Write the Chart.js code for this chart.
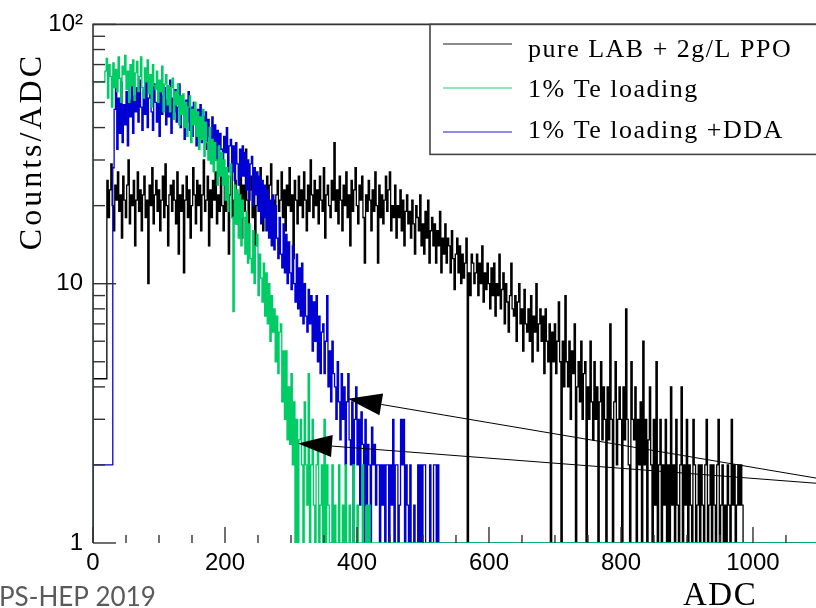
<!DOCTYPE html>
<html><head><meta charset="utf-8">
<script src="https://cdn.jsdelivr.net/npm/chart.js@4.4.1/dist/chart.umd.min.js"></script>
<style>html,body{margin:0;padding:0;background:#fff;overflow:hidden}#c{display:block}</style>
</head><body>
<div style="width:816px;height:608px;position:relative"><canvas id="c" width="816" height="608"></canvas></div>
<script>
// ---- data (counts per ADC, bins of 2 ADC) ----
const binWidth = 2;
const blackStart = 21;
const blackCounts = [
 4.3,25,18,23,29,20,16,24,21,27,
 19,22,15,26,21,18,24,30,17,22,
 20,25,14,21,27,19,23,16,22,26,
 18,21,10,24,20,28,17,22,25,19,
 23,16,21,26,18,29,20,14,22,24,
 19,25,21,17,27,13,22,19,24,11,
 21,26,18,23,15,20,28,22,17,25,
 20,24,16,22,30,19,21,26,14,23,
 18,25,21,27,17,22,19,31,20,16,
 24,19,26,13,22,28,18,21,25,17,
 22,20,27,15,24,19,33,21,17,23,
 26,18,22,14,20,25,19,28,21,16,
 23,20,26,18,24,29,17,21,15,22,
 25,19,21,27,18,23,16,24,20,28,
 19,22,12.5,25,21,17,26,20,23,18,
 27,21,16,24,19,30,22,18,25,20,
 23,17,26,21,19,28,15,22,24,20,
 18,25,21,35,19,23,17,26,21,16,
 24,20,27,18,22,14,25,19,23,28,
 20,17,24,21,26,18,12,22,19,25,
 21,16,23,19,27,20,12,24,18,22,
 17,21,26,19,23,27,16,20,18,24,
 15,20,18,23,16,21,14,19,22,17,
 19,15,21,17,13,20,18,16,22,14,
 17,13,19,15,21,12,16,18,14,17,
 12,16,14,19,11,15,13,17,12,15,
 14,11,16,12.5,9.5,13,15,11,14,10,
 13,10.5,12,15,0,11,9,13,12,10,
 11,13,9,12,10,14,8.5,11,9.5,12,
 10,8,11.5,9,12,7.5,10,9,13,8,
 9.5,11,7,10,8.5,6.5,9,12,8,7.5,
 9,6,8.5,10,7,8,5.5,9.5,7,6.5,
 8,6,9,5,7.5,6.5,10,5.5,7,8,
 6,7.5,4.5,8,6,5,7,0,6.5,5,
 7,4.5,6,8.5,5,0,6,4,9,5,
 4,6,3,5.5,4.5,7,0,4,5,3.5,
 6,3,4.5,5,0,4,3,6,3.5,2.5,
 5,3,4,0,3.5,5,2.5,4,3,0,
 4,2.5,7,3,0,3.5,5,2,3,4,
 3,0,4,2.5,8,3,2,0,5,3,
 2.5,4,0,3,2,3.5,0,6,2,3,
 0,2.5,4,2,0,3,1.4,5,0,2,
 3,0,2,1.4,3,0,2,0,4,1.4,
 2,0,3,1.4,0,2,4,0,2,1.4,
 3,0,2,1.4,0,3,2,0,1.4,2,
 0,2,1.4,0,2,3,0,1.4,2,0,
 2,1.4,0,2,3,0,1.4,2,0,1.4,
 0,2,1.4,0,3,1.4,2,0,1.4,2,
 1.4,2,1.4
];
const greenStart = 18;
const greenCounts = [
 60,66,74,52,70,63,48,71,57,67,
 55,75,62,50,69,64,76,56,66,50,
 70,58,73,51,65,72,55,63,75,57,
 52,68,60,73,54,64,48,70,58,56,
 66,50,61,55,69,46,59,64,49,58,
 46,57,62,43,55,49,59,41,53,45,
 54,40,50,37,48,53,35,47,41,50,
 37,46,33,44,36,47,31,42,35,30,
 40,29,36,27,35,30,24,34,26,32,
 24,30,21,28,19,26,29,18,7.8,24,
 17,23,15,22,14,21,18,13,19,12,
 17,12.5,11,16,10,14,15.5,9,13,10.5,
 8.5,12,7.5,11,7,10,6,9,6.5,8,
 5,7.5,4.5,6.5,7,3.5,5.5,3,5.5,2.5,
 4,2.4,4.5,2,3.5,0,3,0,2.5,3,
 2,0,3.5,2,1.4,4.5,0,2,3,1.4,
 0,2,2.5,0,1.4,2,0,3,0,2,
 1.4,0,0,2,0,1.4,0,0,2,0,
 0,1.4,0,2,0,0,1.4,0,0,2,
 0,0,1.4,0,0,0,2,0,0,1.4,
 0,1.4
];
const blueStart = 30;
const blueCounts = [
 2,28,47,58,33,52,38,60,35,49,
 41,55,34,51,44,59,38,53,46,57,
 42,61,48,39,56,45,62,40,52,58,
 46,39,59,50,42,55,37,60,45,53,
 57,41,51,44,61,38,52,46,56,42,
 48,59,40,53,45,36,51,42,55,39,
 48,37,50,42,34,47,39,49,35,44,
 38,46,33,43,37,31,44,35,41,30,
 39,30,38,33,28,37,32,40,27,34,
 36,27,34,25,35,29,24,33,26,34,
 26,32,23,30,21,29,31,20,28,22,
 27,19,26,17,25,18,24,16,23,15,
 21,14,22,13.5,20,15,12.5,18,13,11.5,
 17,11,15.5,10,14.5,11,9.5,14,10,8.5,
 13,8,11.5,7.5,12,7,10,7.5,6.5,9.5,
 7,9,5.5,8.5,6,9,5,7.5,4.5,6.5,
 7,4.5,6,9,4,5.5,3.5,6,4.5,4,
 3,5,3.5,2.5,4.5,3,4,2,3.5,4.5,
 2.5,2,3.5,0,3,4,2,3,1.4,3.2,
 2.4,0,3,1.4,2.4,2,0,2.8,2,2.4,
 1.4,2,2,0,2,1.4,2,0,2,2,
 0,2,1.4,3,0,2,2,0,1.4,3,
 2,3,0,2,1.4,0,2,0,0,1.4,
 0,0,2,0,2,0,2,2,0,0,
 0,2,0,0,2,2,0,2,0,0
];
const seriesLabels = ['pure LAB + 2g/L PPO', '1% Te loading', '1% Te loading +DDA'];
const seriesColors = ['#000000', '#00cc66', '#0000d2'];
const xTickValues = [0, 200, 400, 600, 800, 1000];
const yTickValues = [1, 10, 100];
const yTickLabels = ['1', '10', '10\u00B2'];
const xMin = 0, xMax = 1095.5, yMin = 1, yMax = 100;
// annotation arrows: from (ADC, counts) -> to (ADC, counts)
const arrowFrom = [[1095.5, 1.78], [1095.5, 1.70]];
const arrowTo = [[386, 3.6], [310.6, 2.42]];

// ---- build step histograms (empty bins drawn on the axis floor) ----
function histPoints(start, counts) {
  const floor = v => (v > yMin ? v : yMin);
  const pts = [{x: xMin, y: yMin}];
  counts.forEach((c, i) => pts.push({x: start + i * binWidth, y: floor(c)}));
  pts.push({x: start + counts.length * binWidth, y: yMin});
  pts.push({x: xMax, y: yMin});
  return pts;
}

const frameColor = '#333';
const decor = {
  id: 'decor',
  afterDraw(chart) {
    const ctx = chart.ctx, a = chart.chartArea;
    const xs = chart.scales.x, ys = chart.scales.y;
    ctx.save();
    ctx.strokeStyle = frameColor; ctx.lineWidth = 1.6;
    ctx.beginPath();
    ctx.moveTo(a.right + 5, a.top); ctx.lineTo(a.left, a.top); ctx.lineTo(a.left, a.bottom);
    ctx.stroke();
    ctx.lineWidth = 1.4;
    for (let d = 1; d <= 100; d *= 10) {
      for (let m = 1; m <= 9; m++) {
        const v = d * m; if (v > yMax) break;
        const y = ys.getPixelForValue(v);
        const len = (m === 1) ? 23 : 12;
        ctx.beginPath(); ctx.moveTo(a.left, y); ctx.lineTo(a.left + len, y); ctx.stroke();
      }
    }
    for (let v = 0; v <= xMax; v += 50) {
      const x = xs.getPixelForValue(v);
      const len = (v % 200 === 0) ? 16 : 8;
      ctx.beginPath(); ctx.moveTo(x, a.bottom); ctx.lineTo(x, a.bottom - len); ctx.stroke();
    }
    // legend
    ctx.fillStyle = '#fff';
    ctx.fillRect(430, a.top, 400, 130);
    ctx.strokeStyle = '#444'; ctx.lineWidth = 1.6;
    ctx.strokeRect(430, a.top, 400, 130);
    const rowLine = [44, 88, 132], rowBase = [57, 97, 138];
    ctx.font = '26px "Liberation Serif"';
    try { ctx.letterSpacing = '1.5px'; } catch (e) {}
    ctx.textAlign = 'left'; ctx.textBaseline = 'alphabetic';
    seriesLabels.forEach((lab, i) => {
      ctx.strokeStyle = seriesColors[i]; ctx.globalAlpha = 0.6; ctx.lineWidth = 1.6;
      ctx.beginPath(); ctx.moveTo(443, rowLine[i]); ctx.lineTo(512, rowLine[i]); ctx.stroke();
      ctx.globalAlpha = 1;
      ctx.fillStyle = '#000';
      ctx.fillText(lab, 528, rowBase[i]);
    });
    // arrows
    ctx.strokeStyle = '#000'; ctx.fillStyle = '#000'; ctx.lineWidth = 1;
    arrowFrom.forEach((f, i) => {
      const x1 = xs.getPixelForValue(f[0]), y1 = ys.getPixelForValue(f[1]);
      const x2 = xs.getPixelForValue(arrowTo[i][0]), y2 = ys.getPixelForValue(arrowTo[i][1]);
      const ang = Math.atan2(y2 - y1, x2 - x1);
      const L = 34, W = 11;
      const bx = x2 - L * Math.cos(ang), by = y2 - L * Math.sin(ang);
      ctx.beginPath(); ctx.moveTo(x1 + 40, y1 + 40 * Math.tan(ang)); ctx.lineTo(bx, by); ctx.stroke();
      ctx.beginPath();
      ctx.moveTo(x2, y2);
      ctx.lineTo(bx - W * Math.sin(ang), by + W * Math.cos(ang));
      ctx.lineTo(bx + W * Math.sin(ang), by - W * Math.cos(ang));
      ctx.closePath(); ctx.fill();
    });
    // axis titles
    ctx.fillStyle = '#000';
    ctx.font = '32px "Liberation Serif"';
    try { ctx.letterSpacing = '3px'; } catch (e) {}
    ctx.save();
    ctx.translate(41, 53); ctx.rotate(-Math.PI / 2);
    ctx.textAlign = 'right';
    ctx.fillText('Counts/ADC', 0, 0);
    ctx.restore();
    ctx.font = '33px "Liberation Serif"';
    try { ctx.letterSpacing = '1.5px'; } catch (e) {}
    ctx.textAlign = 'left';
    ctx.fillText('ADC', 683, 605);
    try { ctx.letterSpacing = '0px'; } catch (e) {}
    ctx.font = '26px Lato';
    ctx.fillStyle = '#5a5a5a';
    ctx.fillText('PS-HEP 2019', -1, 606);
    ctx.restore();
  }
};

const ds = (label, start, counts, color, order) => ({
  label, data: histPoints(start, counts), borderColor: color, borderWidth: 1.3,
  pointRadius: 0, stepped: 'after', fill: false, tension: 0, order
});

new Chart(document.getElementById('c'), {
  type: 'line',
  data: {
    datasets: [
      ds(seriesLabels[0], blackStart, blackCounts, seriesColors[0], 3),
      ds(seriesLabels[1], greenStart, greenCounts, seriesColors[1], 1),
      ds(seriesLabels[2], blueStart, blueCounts, seriesColors[2], 2)
    ]
  },
  options: {
    responsive: false, animation: false, devicePixelRatio: 1,
    layout: {padding: {top: 22, right: 0, left: 0, bottom: 0}},
    plugins: {legend: {display: false}, tooltip: {enabled: false}},
    scales: {
      x: {
        type: 'linear', min: xMin, max: xMax,
        afterBuildTicks: s => { s.ticks = xTickValues.map(v => ({value: v})); },
        afterFit: s => { s.height = 65; },
        ticks: {font: {family: 'Liberation Sans', size: 24}, color: '#000', padding: 6, maxRotation: 0, autoSkip: false,
          callback: v => String(v)},
        grid: {display: false, drawTicks: false},
        border: {display: false}
      },
      y: {
        type: 'logarithmic', min: yMin, max: yMax,
        afterBuildTicks: s => { s.ticks = yTickValues.map(v => ({value: v})); },
        afterFit: s => { s.width = 93; },
        ticks: {font: {family: 'Liberation Sans', size: 24}, color: '#000', padding: 10,
          callback: (v) => { const i = yTickValues.indexOf(v); return i >= 0 ? yTickLabels[i] : ''; }},
        grid: {display: false, drawTicks: false},
        border: {display: false}
      }
    }
  },
  plugins: [decor]
});
</script>
</body></html>
